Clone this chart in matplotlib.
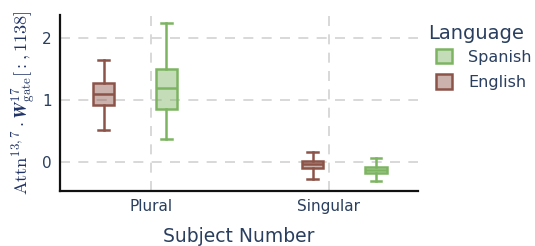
import matplotlib
matplotlib.use("Agg")
import matplotlib.pyplot as plt
from matplotlib.patches import Patch

plt.rcParams['mathtext.fontset'] = 'cm'

# box stats: (whislo, q1, med, q3, whishi)
categories = ['Plural', 'Singular']
english = [(0.52, 0.91, 1.10, 1.28, 1.64), (-0.27, -0.10, -0.04, 0.01, 0.16)]
spanish = [(0.37, 0.85, 1.19, 1.50, 2.24), (-0.31, -0.18, -0.13, -0.08, 0.06)]
languages = ['Spanish', 'English']

eng_offsets = [-0.265, -0.09]
spa_offsets = [0.087, 0.265]

text_col = '#2a3f5f'
eng_col = '#8c5449'
spa_col = '#7db462'

fig = plt.figure(figsize=(5.35, 2.46), dpi=100)
ax = fig.add_axes([0.112, 0.224, 0.669, 0.715])


def make_stats(vals):
    out = []
    for lo, q1, med, q3, hi in vals:
        out.append(dict(whislo=lo, q1=q1, med=med, q3=q3, whishi=hi, fliers=[]))
    return out


def draw(vals, offs, col):
    pos = [i + o for i, o in enumerate(offs)]
    bp = ax.bxp(make_stats(vals), positions=pos, widths=0.12, patch_artist=True,
                showfliers=False, manage_ticks=False)
    for b in bp['boxes']:
        b.set_facecolor(matplotlib.colors.to_rgba(col, 0.45))
        b.set_edgecolor(col)
        b.set_linewidth(1.8)
    for k in ['whiskers', 'caps', 'medians']:
        for l in bp[k]:
            l.set_color(col)
            l.set_linewidth(1.8)
    for c in bp['caps']:
        x0, x1 = c.get_xdata()
        m = (x0 + x1) / 2
        c.set_xdata([m - 0.03, m + 0.03])


draw(english, eng_offsets, eng_col)
draw(spanish, spa_offsets, spa_col)

ax.set_xlim(-0.51, 1.5)
ax.set_ylim(-0.47, 2.37)
ax.set_xticks(range(len(categories)))
ax.set_xticklabels(categories)
ax.set_yticks([0, 1, 2])
ax.grid(True, linestyle=(0, (6, 5)), color='#d2d2d2', linewidth=1.2)
ax.set_axisbelow(True)
ax.tick_params(length=0, labelsize=11, labelcolor=text_col, pad=6)
for s in ['top', 'right']:
    ax.spines[s].set_visible(False)
for s in ['left', 'bottom']:
    ax.spines[s].set_linewidth(1.6)
    ax.spines[s].set_color('#111111')

ax.set_xlabel('Subject Number', fontsize=13.5, color=text_col, labelpad=9)
ax.set_ylabel(r'$\mathrm{Attn}^{13,7}\cdot\boldsymbol{W}^{17}_{\mathrm{gate}}[:,1138]$',
              fontsize=13.2, color='#1f3266', labelpad=3)

fig.text(0.80, 0.865, 'Language', fontsize=14, color=text_col, va='center', ha='left')
handles = [Patch(facecolor=matplotlib.colors.to_rgba(spa_col, 0.45), edgecolor=spa_col, linewidth=1.8),
           Patch(facecolor=matplotlib.colors.to_rgba(eng_col, 0.45), edgecolor=eng_col, linewidth=1.8)]
leg = fig.legend(handles, languages, loc='upper left',
                 bbox_to_anchor=(0.815, 0.80), frameon=False, fontsize=11.5,
                 handlelength=1.0, handleheight=1.0, handletextpad=1.0,
                 labelspacing=0.6, borderpad=0, borderaxespad=0)
for t in leg.get_texts():
    t.set_color(text_col)

fig.savefig('out.png', dpi=100)
